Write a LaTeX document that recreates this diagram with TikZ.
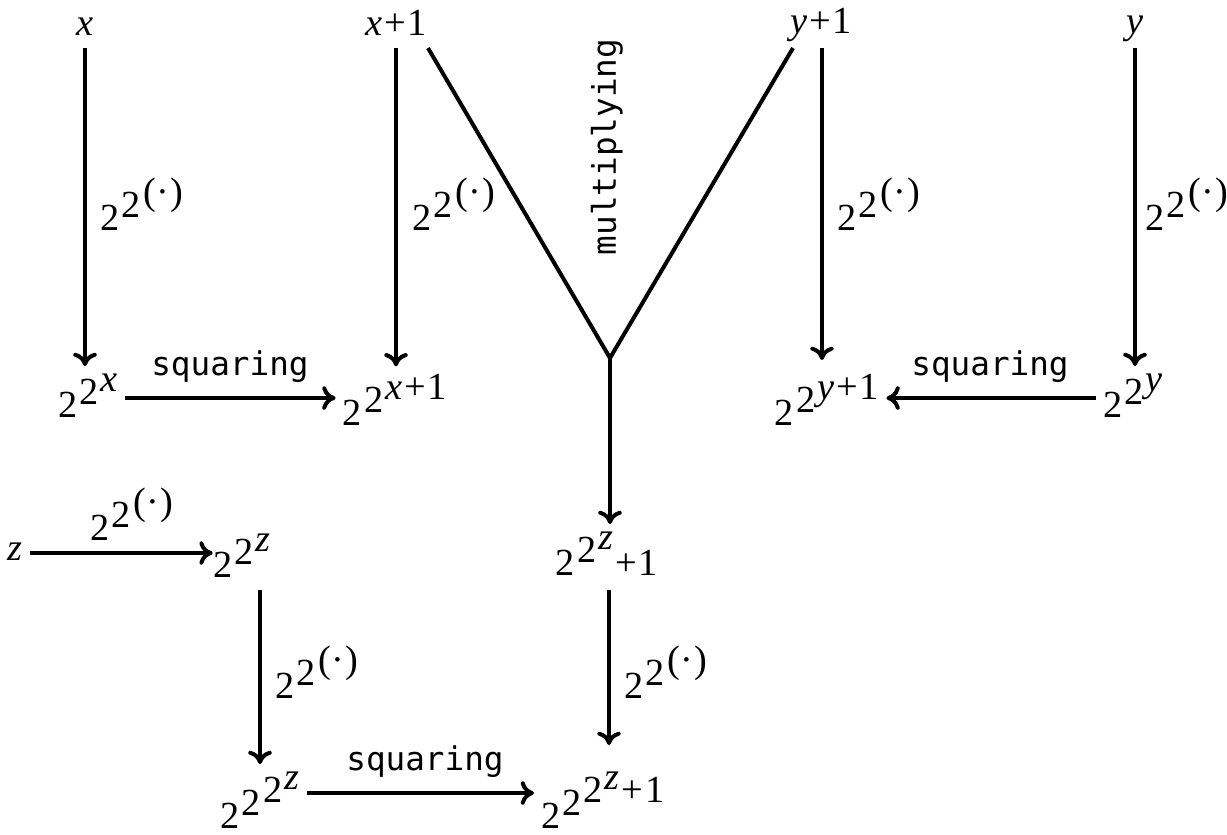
\documentclass[tikz,border=0pt]{standalone}
\usepackage{fontspec}
\setmainfont{Liberation Serif}
\newfontfamily\serifmain{Liberation Serif}
\setmonofont{DejaVu Sans Mono}
\usetikzlibrary{arrows.meta}
\newcommand\up[1]{\kern0.6pt\raisebox{3.9pt}{#1}}
\newcommand\vx{\textit{x}}
\newcommand\vy{\textit{y}}
\newcommand\vz{\textit{z}}
\newcommand\plusone{\kern0.6pt+\kern0.6pt1}
\newcommand\ddexp{2\up{2\up{(\kern0.3pt·\kern0.3pt)}}}
\newcommand\mono[1]{{\fontsize{9.8}{11}\selectfont\ttfamily #1}}
\begin{document}
\begin{tikzpicture}[x=0.3pt,y=-0.3pt,
  font=\serifmain\fontsize{11.5}{13}\selectfont,
  lbl/.style={inner sep=2pt, anchor=base},
  lab/.style={inner sep=0pt, anchor=base west},
  sq/.style={inner sep=0pt, anchor=base},
  arr/.style={-{To[length=4pt,width=7pt]}, line width=1.2pt},
  ln/.style={line width=1.2pt}]
\useasboundingbox (0,0) rectangle (1227,834);
% top row
\node[lbl] (nx)  at (85,35)   {\vx};
\node[lbl] (nx1) at (396,35)  {\vx\plusone};
\node[lbl] (ny1) at (821,33)  {\vy\plusone};
\node[lbl] (ny)  at (1135,33) {\vy};
% second row
\node[lbl] (e2x)  at (88,417)   {2\up{2\up{\vx}}};
\node[lbl] (e2x1) at (395,425)  {2\up{2\up{\vx\plusone}}};
\node[lbl] (e2y1) at (827,425)  {2\up{2\up{\vy\plusone}}};
\node[lbl] (e2y)  at (1133,417) {2\up{2\up{\vy}}};
% middle
\node[rotate=90, inner sep=0pt] (mult) at (607,147) {\mono{multiplying}};
\coordinate (mL) at (428,48);
\coordinate (mR) at (793,48);
\coordinate (m)  at (610,358);
\node[lbl] (ez1) at (607,575) {2\up{2\up{\vz}}\plusone};
% lower
\node[lbl] (nz)  at (15,560)  {\vz};
\node[lbl] (ez)  at (242,577) {2\up{2\up{\vz}}};
\node[lbl] (eez) at (260,828) {2\up{2\up{2\up{\vz}}}};
\node[lbl] (eez1) at (603,828) {2\up{2\up{2\up{\vz}\plusone}}};
% vertical arrows and labels
\draw[arr] (nx.south |- 0,48) -- (nx.south |- e2x.north);
\node[lab] (l1) at (100,230) {\ddexp};
\draw[arr] (nx1.south |- 0,48) -- (nx1.south |- e2x1.north);
\node[lab] (l2) at (412,230) {\ddexp};
\draw[arr] (822,48) -- (822,360);
\node[lab] (l3) at (837,230) {\ddexp};
\draw[arr] (ny.south |- 0,48) -- (ny.south |- e2y.north);
\node[lab] (l4) at (1145,230) {\ddexp};
% horizontal arrows
\draw[arr] (e2x.east |- 0,398) -- (e2x1.west |- 0,398);
\node[sq] (s1) at (230,375) {\mono{squaring}};
\draw[arr] (e2y.west |- 0,398) -- (e2y1.east |- 0,398);
\node[sq] (s2) at (990,375) {\mono{squaring}};
% Y shape
\draw[ln] (mL) -- (m) -- (mR);
\draw[arr] (m) -- (m |- ez1.north);
% z row
\draw[arr] (nz.east |- 0,553) -- ([xshift=2pt]ez.west |- 0,553);
\node[lab] (l5) at (90,540) {\ddexp};
\draw[arr] (eez.north |- 0,590) -- (eez.north);
\node[lab] (l6) at (275,698) {\ddexp};
\draw[arr] (609,590) -- (609,745);
\node[lab] (l7) at (624,698) {\ddexp};
\draw[arr] (eez.east |- 0,793) -- (eez1.west |- 0,793);
\node[sq] (s3) at (425,770) {\mono{squaring}};
\end{tikzpicture}
\end{document}
